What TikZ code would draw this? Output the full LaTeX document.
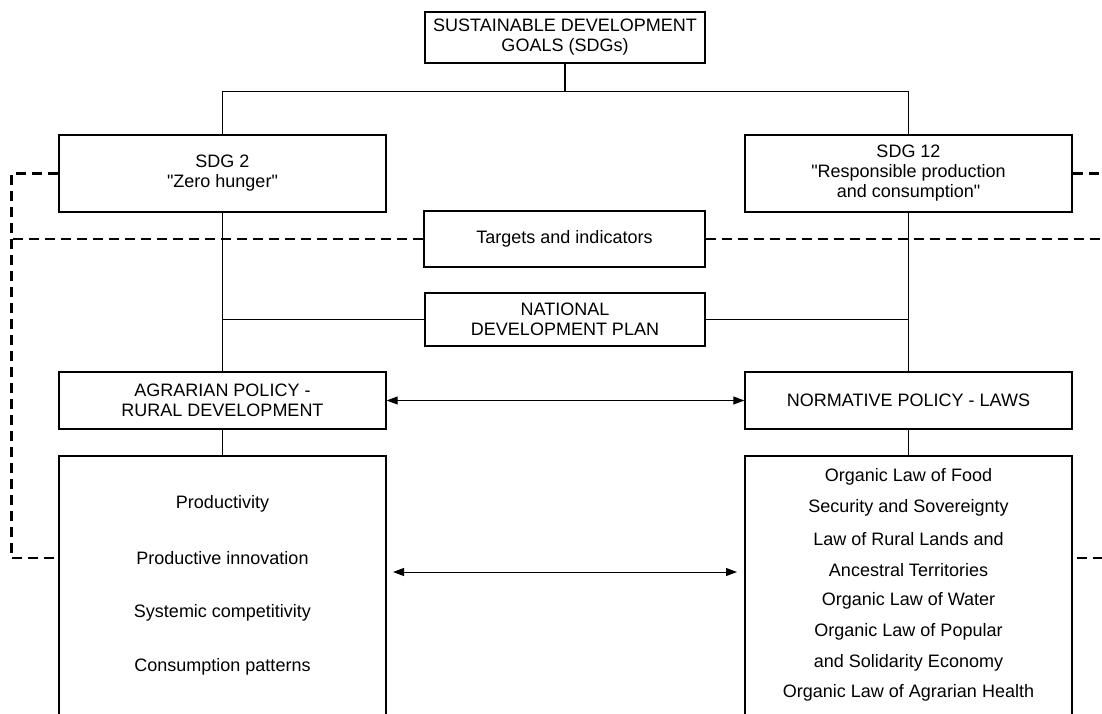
\documentclass[tikz,border=0pt]{standalone}
\usepackage{fontspec}
\setmainfont{Liberation Sans}
\usetikzlibrary{positioning}
\usetikzlibrary{arrows.meta}
\usetikzlibrary{calc}

\tikzset{
  basefont/.style={font=\fontsize{18}{20}\selectfont},
  plainbox/.style={draw, line width=1.3pt, basefont, align=center, inner sep=0pt,
    minimum width=327pt},
  itembox/.style={draw, line width=2pt, minimum width=327pt, inner sep=0pt},
  itemtext/.style={basefont, inner sep=0pt},
  connector/.style={line width=1pt},
  link/.style={line width=2.3pt, dash pattern=on 10pt off 6pt},
}

\begin{document}
\begin{tikzpicture}[x=1pt, y=-1pt, >={Triangle[length=11pt,width=8pt]}]
        \clip (0,0) rectangle (1102,713);

        % goals
        \node[plainbox, minimum width=280pt, minimum height=51pt] (sdgs) at (565,37.5) {SUSTAINABLE DEVELOPMENT\\GOALS (SDGs)};
        \node[plainbox, minimum height=77pt] (sdgtwo) at (222.5,173.5) {SDG 2\\\textquotedbl Zero hunger\textquotedbl};
        \node[plainbox, minimum height=77pt] (sdgtwelve) at (908.5,173.5) {SDG 12\\\textquotedbl Responsible production\\and consumption\textquotedbl};
        \node[plainbox, line width=2.5pt, minimum width=281pt, minimum height=56pt] (targets) at (564.5,239) {Targets and indicators};
        \node[plainbox, minimum width=280pt, minimum height=53pt] (plan) at (565,319.5) {NATIONAL\\DEVELOPMENT PLAN};

        % policies
        \node[plainbox, minimum height=57pt] (agrarian) at (222.5,400.5) {AGRARIAN POLICY -\\RURAL DEVELOPMENT};
        \node[plainbox, minimum height=57pt] (normative) at (908.5,400.5) {NORMATIVE POLICY - LAWS};

        \node[itembox, minimum height=320pt, anchor=north] (agritems) at (222.5,455) {};
        \node[itembox, minimum height=320pt, anchor=north] (lawitems) at (908.5,455) {};

        \foreach \txt [count=\i] in {Productivity, Productive innovation, Systemic competitivity, Consumption patterns}
          \node[itemtext] (agri\i) at (222.5,449.7+54.3*\i) {\txt};
        \foreach \txt [count=\i] in {Organic Law of Food, Security and Sovereignty, Law of Rural Lands and, Ancestral Territories, Organic Law of Water, Organic Law of Popular, and Solidarity Economy, Organic Law of Agrarian Health}
          \node[itemtext] (law\i) at (908.5,446.1+30.9*\i) {\txt};

        % tree
        \draw[line width=2pt] (sdgs.south) -- ++(0,28) coordinate (split);
        \draw[connector] (sdgtwo.north) |- (split) -| (sdgtwelve.north);
        \draw[connector] (sdgtwo.south) -- (agrarian.north);
        \draw[connector] (sdgtwelve.south) -- (normative.north);
        \draw[connector] (plan.west) -- (plan.west -| sdgtwo.south);
        \draw[connector] (plan.east) -- (plan.east -| sdgtwelve.south);
        \draw[connector] (agrarian.south) -- (agritems.north);
        \draw[connector] (normative.south) -- (lawitems.north);

        % exchanges
        \coordinate (arrowl) at (393,572);
        \coordinate (arrowr) at (737,572);
        \draw[connector, <->] (agrarian.east) -- (normative.west);
        \draw[connector, <->] (arrowl) -- (arrowr);

        % dashed links
        \coordinate (leftlink) at (59,558);
        \coordinate (rightlink) at (1072,558);
        \draw[link] (sdgtwo.west) -- ++(-47,0) |- (leftlink);
        \draw[link] (sdgtwelve.east) -- ++(47,0) |- (rightlink);
        \draw[link] (targets.west) -- ++(-412,0);
        \draw[link] (targets.east) -- ++(400,0);
    \end{tikzpicture}
\end{document}
